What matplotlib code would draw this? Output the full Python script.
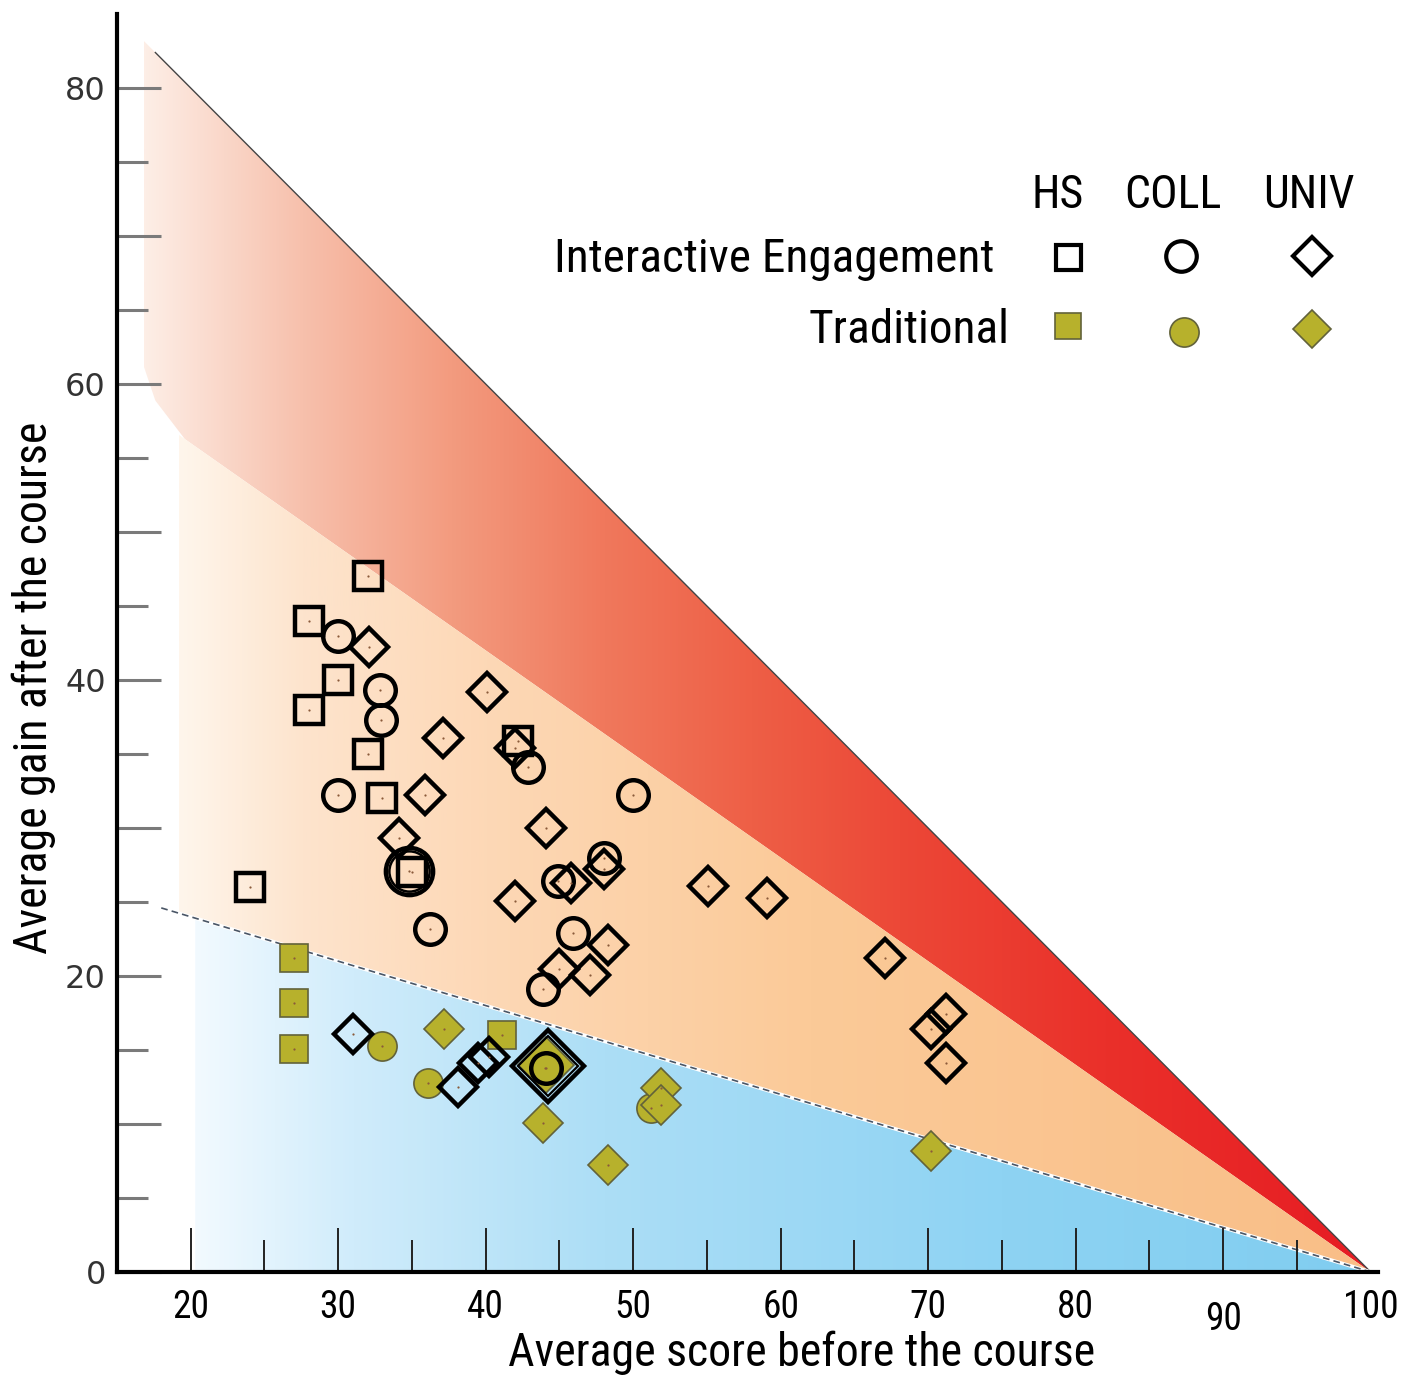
import numpy as np
import matplotlib
matplotlib.use("Agg")
import matplotlib.pyplot as plt
from matplotlib import font_manager as fm
from matplotlib.patches import Polygon
from matplotlib.transforms import ScaledTranslation

# --- data (pre-test score, average gain) ---
ie_hs_x = [32, 28, 30, 28, 32, 33, 42.2, 35, 24]
ie_hs_y = [47, 44, 40, 38, 35, 32, 35.9, 27, 26]

ie_coll_x = [30, 32.8, 32.9, 30, 36.2, 42.9, 50, 44.9, 48, 45.9, 43.9, 44.1]
ie_coll_y = [43, 39.3, 37.3, 32.2, 23.2, 34.1, 32.2, 26.4, 28, 22.9, 19.1, 13.8]
ie_coll_big_x = [34.8]
ie_coll_big_y = [27.1]

ie_univ_x = [32.1, 40.1, 37.1, 35.9, 34.1, 42.0, 44.1, 42.0, 45.8, 48.0, 48.3,
             47.1, 45.0, 55.1, 59.1, 67.1, 70.2, 71.2, 71.2, 31.0, 38.1, 39.5, 40.2]
ie_univ_y = [42.2, 39.2, 36.1, 32.2, 29.3, 35.4, 30.0, 25.1, 26.3, 27.2, 22.1,
             20.1, 20.5, 26.1, 25.3, 21.2, 16.4, 17.4, 14.1, 16.1, 12.5, 14.1, 14.5]
ie_univ_big_x = [44.2]
ie_univ_big_y = [13.9]

trad_hs_x = [27, 27, 27, 41.1]
trad_hs_y = [21.2, 18.2, 15.1, 16.0]
trad_coll_x = [33, 36.1, 44, 51.2]
trad_coll_y = [15.3, 12.8, 13.8, 11.1]
trad_univ_x = [37.2, 43.9, 48.3, 70.2, 51.9, 51.9]
trad_univ_y = [16.4, 10.1, 7.2, 8.2, 12.4, 11.3]
trad_univ_big_x = [44.1]
trad_univ_big_y = [14.0]

gain_lines = [1.0, 0.7, 0.3]   # normalized gain boundaries
x_ticks = [20, 30, 40, 50, 60, 70, 80, 90, 100]
y_ticks = [0, 20, 40, 60, 80]

OLIVE = "#b7b12c"
OLIVE_EDGE = "#62623a"

avail = {f.name for f in fm.fontManager.ttflist}
NARROW = next((n for n in ["Liberation Sans Narrow", "Roboto Condensed",
                           "Open Sans Condensed"] if n in avail), "Liberation Sans")

fig = plt.figure(figsize=(14.08, 13.76), dpi=100)
ax = fig.add_axes([0.0831, 0.0756, 0.8956, 0.9142])
ax.set_xlim(15, 100.5)
ax.set_ylim(0, 85)


def gradient_band(x0, stops, poly):
    xs = np.linspace(x0, 100, 400)
    sx = [s[0] for s in stops]
    rgb = np.stack([np.interp(xs, sx, [s[1][i] for s in stops]) for i in range(3)], -1) / 255
    img = rgb[None, :, :]
    im = ax.imshow(img, extent=[x0, 100, 0, 85], aspect="auto", origin="lower",
                   interpolation="bilinear", zorder=0)
    patch = Polygon(poly, closed=True, transform=ax.transData, fc="none", ec="none")
    ax.add_patch(patch)
    im.set_clip_path(patch)


g_hi, g_mid, g_lo = gain_lines
# red band: between gain 0.7 and gain 1
xr = 16.8
gradient_band(xr, [(16.8, (253, 238, 230)), (27.5, (247, 192, 172)), (37.6, (243, 155, 127)),
                   (48, (240, 120, 92)), (58, (238, 95, 70)), (68, (236, 72, 55)),
                   (82, (234, 48, 42)), (100, (230, 28, 35))],
              [(xr, g_hi * (100 - xr)), (100, 0), (19.6, g_mid * 80.4), (17.6, g_mid * 82.4 + 1.2),
               (xr, g_mid * (100 - xr) + 3)])
# orange band: between gain 0.3 and 0.7
xo = 19.2
gradient_band(xo, [(19.2, (255, 246, 236)), (27.5, (253, 228, 205)), (40, (253, 216, 182)),
                   (62, (251, 202, 152)), (100, (249, 190, 135))],
              [(xo, g_mid * (100 - xo)), (100, 0), (xo, g_lo * (100 - xo))])
# blue band: below gain 0.3
xb = 20.3
gradient_band(xb, [(20.3, (242, 250, 255)), (31, (208, 236, 251)), (48, (172, 222, 246)),
                   (75, (142, 211, 243)), (100, (128, 205, 240))],
              [(xb, g_lo * (100 - xb)), (100, 0), (xb, 0)])

# boundary lines
xl = np.array([17.6, 100])
ax.plot(xl, g_hi * (100 - xl), color="#444444", lw=1.0, zorder=1)
xl = np.array([18.0, 100])
ax.plot(xl, g_lo * (100 - xl), color="white", lw=2.6, zorder=1)
ax.plot(xl, g_lo * (100 - xl), color="#4a5666", lw=1.2, ls=(0, (4, 2.5)), zorder=1)

# traditional (filled) markers
tkw = dict(ls="none", mfc=OLIVE, mec=OLIVE_EDGE, mew=1.2, zorder=3)
ax.plot(trad_univ_big_x, trad_univ_big_y, marker="D", ms=29, **tkw)
ax.plot(trad_hs_x, trad_hs_y, marker="s", ms=20, **tkw)
ax.plot(trad_coll_x, trad_coll_y, marker="o", ms=21, **tkw)
ax.plot(trad_univ_x, trad_univ_y, marker="D", ms=20, **tkw)

# interactive engagement (open) markers
ikw = dict(ls="none", mfc="none", mec="black", mew=3.2, zorder=4)
ax.plot(ie_hs_x, ie_hs_y, marker="s", ms=20, **ikw)
ax.plot(ie_coll_x, ie_coll_y, marker="o", ms=22, **ikw)
ax.plot(ie_coll_big_x, ie_coll_big_y, marker="o", ms=34, **ikw)
ax.plot(ie_coll_big_x, ie_coll_big_y, marker="o", ms=29, ls="none", mfc="none",
        mec="black", mew=1.8, zorder=4)
ax.plot(ie_univ_x, ie_univ_y, marker="D", ms=19.5, **ikw)
ax.plot(ie_univ_big_x, ie_univ_big_y, marker="D", ms=37, **ikw)
ax.plot(ie_univ_big_x, ie_univ_big_y, marker="D", ms=31, ls="none", mfc="none",
        mec="black", mew=1.6, zorder=4)

# tiny centre dots
all_x = ie_hs_x + ie_coll_x + ie_coll_big_x + ie_univ_x + trad_hs_x + trad_coll_x + trad_univ_x
all_y = ie_hs_y + ie_coll_y + ie_coll_big_y + ie_univ_y + trad_hs_y + trad_coll_y + trad_univ_y
ax.plot(all_x, all_y, ls="none", marker="o", ms=1.6, mfc="#8a5a3a", mec="none", zorder=5)

# axes styling
for s in ["top", "right"]:
    ax.spines[s].set_visible(False)
for s in ["left", "bottom"]:
    ax.spines[s].set_linewidth(3)
    ax.spines[s].set_zorder(6)

ax.set_xticks(x_ticks)
ax.set_xticklabels([str(v) for v in x_ticks], fontsize=27, family=NARROW)
ax.set_xticks(np.arange(25, 100, 5)[np.arange(25, 100, 5) % 10 != 0], minor=True)
ax.tick_params(axis="x", which="major", direction="in", length=32, width=1.4,
               color="#222222", pad=12, zorder=2)
ax.tick_params(axis="x", which="minor", direction="in", length=23, width=1.4, color="#222222")
ax.xaxis.get_major_ticks()[-1].tick1line.set_visible(False)
for lab in ax.get_xticklabels():
    if lab.get_text() == "90":
        lab.set_transform(lab.get_transform() + ScaledTranslation(0, -0.12, fig.dpi_scale_trans))

ax.set_yticks(range(0, 85, 10))
ax.set_yticklabels([str(v) if v in y_ticks else "" for v in range(0, 85, 10)],
                   fontsize=23, color="#333333", family="DejaVu Sans")
ax.set_yticks(range(5, 85, 10), minor=True)
ax.tick_params(axis="y", which="major", direction="in", length=32, width=2.2,
               color="#7a7a7a", pad=8)
ax.tick_params(axis="y", which="minor", direction="in", length=22, width=2.2, color="#7a7a7a")

ax.text(0.543, -0.064, "Average score before the course", transform=ax.transAxes,
        ha="center", va="center", fontsize=33, family=NARROW)
ax.text(-0.066, 0.464, "Average gain after the course", transform=ax.transAxes,
        ha="center", va="center", rotation=90, fontsize=33, family=NARROW)

# legend block
lt = ax.transAxes
for x, lab in [(0.746, "HS"), (0.837, "COLL"), (0.945, "UNIV")]:
    ax.text(x, 0.856, lab, transform=lt, ha="center", va="center", fontsize=33, family=NARROW)
ax.text(0.696, 0.805, "Interactive Engagement", transform=lt, ha="right", va="center",
        fontsize=34, family=NARROW)
ax.text(0.708, 0.749, "Traditional", transform=lt, ha="right", va="center",
        fontsize=34, family=NARROW)
ax.plot([0.754], [0.807], transform=lt, marker="s", ms=18, mfc="none", mec="black", mew=3)
ax.plot([0.844], [0.808], transform=lt, marker="o", ms=22, mfc="none", mec="black", mew=3)
ax.plot([0.948], [0.808], transform=lt, marker="D", ms=19, mfc="none", mec="black", mew=3)
ax.plot([0.754], [0.752], transform=lt, marker="s", ms=19, mfc=OLIVE, mec=OLIVE_EDGE, mew=1.2)
ax.plot([0.846], [0.747], transform=lt, marker="o", ms=21, mfc=OLIVE, mec=OLIVE_EDGE, mew=1.2)
ax.plot([0.948], [0.750], transform=lt, marker="D", ms=19, mfc=OLIVE, mec=OLIVE_EDGE, mew=1.2)

fig.savefig("out.png", dpi=100)
